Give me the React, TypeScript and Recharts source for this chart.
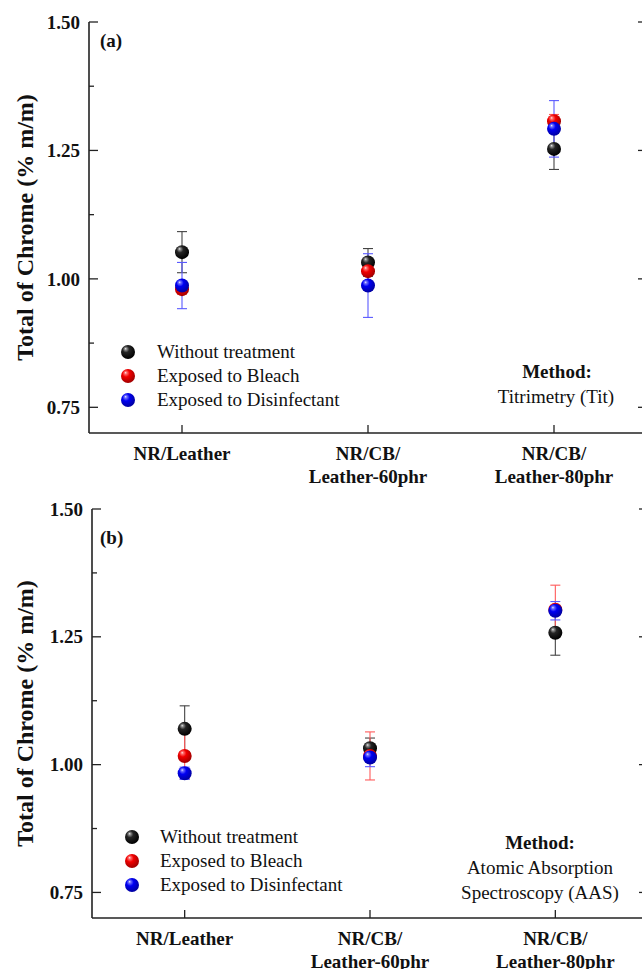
import React from 'react';
import { ComposedChart, Scatter, XAxis, YAxis, ErrorBar } from 'recharts';

// ---------- data ----------
const categories = ['NR/Leather', 'NR/CB/\nLeather-60phr', 'NR/CB/\nLeather-80phr'];
const seriesNames = ['Without treatment', 'Exposed to Bleach', 'Exposed to Disinfectant'];
const yTicks = [0.75, 0.875, 1.0, 1.125, 1.25, 1.375, 1.5];
const yDomain: [number, number] = [0.7, 1.5];

// Panel (a) Titrimetry
const titWithout = [1.052, 1.032, 1.253];
const titWithoutErr = [0.04, 0.027, 0.04];
const titBleach = [0.98, 1.015, 1.307];
const titBleachErr = [0.01, 0.02, 0.013];
const titDisinf = [0.987, 0.987, 1.292];
const titDisinfErr = [0.045, 0.062, 0.055];

// Panel (b) AAS
const aasWithout = [1.07, 1.032, 1.258];
const aasWithoutErr = [0.045, 0.02, 0.044];
const aasBleach = [1.017, 1.017, 1.303];
const aasBleachErr = [0.045, 0.047, 0.048];
const aasDisinf = [0.983, 1.014, 1.301];
const aasDisinfErr = [0.012, 0.018, 0.018];

const FONT = "'Liberation Serif', 'Times New Roman', serif";
const AXIS = '#222';

const sphereStops: Record<string, [number, string][]> = {
  black: [[0, '#e8e8e8'], [0.14, '#8a8a8a'], [0.38, '#252525'], [1, '#000000']],
  red: [[0, '#ffe8e8'], [0.14, '#ff7070'], [0.42, '#f20000'], [1, '#a00000']],
  blue: [[0, '#e8e8ff'], [0.14, '#7070ff'], [0.42, '#0000f2'], [1, '#0000a0']],
};
const colorKeys = ['black', 'red', 'blue'];
const errColors = ['#444444', '#ff5a5a', '#5a5aff'];

const Sphere = ({ cx, cy, color, id, r = 7 }: any) => (
  <g>
    <defs>
      <radialGradient id={id} cx="42%" cy="38%" r="62%" fx="32%" fy="26%">
        {sphereStops[color].map(([o, c], i) => (
          <stop key={i} offset={o} stopColor={c} />
        ))}
      </radialGradient>
    </defs>
    <circle cx={cx} cy={cy} r={r} fill={`url(#${id})`} />
  </g>
);

const isMajor = (v: number) => Math.abs(v * 4 - Math.round(v * 4)) < 1e-6;

const LeftTick = (props: any) => {
  const { x, y, payload } = props;
  const v = payload.value as number;
  const major = isMajor(v);
  return (
    <g>
      <line x1={x} x2={x + (major ? 9 : 5)} y1={y} y2={y} stroke={AXIS} strokeWidth={1.3} />
      {major && (
        <text x={x - 9} y={y} dy="0.35em" textAnchor="end" fontFamily={FONT} fontWeight="bold" fontSize={19} fill="#111">
          {v.toFixed(2)}
        </text>
      )}
    </g>
  );
};

const RightTick = (props: any) => {
  const { x, y, payload } = props;
  const major = isMajor(payload.value);
  return <line x1={x} x2={x - (major ? 9 : 5)} y1={y} y2={y} stroke={AXIS} strokeWidth={1.3} />;
};

const TopTick = (props: any) => {
  const { x, y } = props;
  return <line x1={x} x2={x} y1={y} y2={y + 8} stroke={AXIS} strokeWidth={1.3} />;
};

const BottomTick = (props: any) => {
  const { x, y, payload } = props;
  const lines = String(payload.value).split('\n');
  return (
    <g>
      <line x1={x} x2={x} y1={y} y2={y - 8} stroke={AXIS} strokeWidth={1.3} />
      {lines.map((l, i) => (
        <text key={i} x={x} y={y + 27 + i * 23} textAnchor="middle" fontFamily={FONT} fontWeight="bold" fontSize={19} fill="#111">
          {l}
        </text>
      ))}
    </g>
  );
};

const YLabel = ({ cx, cy }: any) => (
  <text x={cx} y={cy} transform={`rotate(-90, ${cx}, ${cy})`} textAnchor="middle" dominantBaseline="central"
    fontFamily={FONT} fontWeight="bold" fontSize={24} fill="#111">
    Total of Chrome (% m/m)
  </text>
);

type PanelProps = {
  id: string;
  top: number;
  width: number;
  height: number;
  marginTop: number;
  plotHeight: number;
  yAxisWidth: number;
  labelCx: number;
  vals: number[][];
  errs: number[][];
};

const RIGHT_W = 15;

const Panel = ({ id, top, width, height, marginTop, plotHeight, yAxisWidth, labelCx, vals, errs }: PanelProps) => {
  const data = categories.map((cat, i) => ({
    cat,
    s0: vals[0][i], e0: errs[0][i],
    s1: vals[1][i], e1: errs[1][i],
    s2: vals[2][i], e2: errs[2][i],
  }));
  const xAxisHeight = height - marginTop - plotHeight;
  const plotWidth = width - yAxisWidth - RIGHT_W;
  const pad = plotWidth / (2 * categories.length);
  return (
    <div style={{ position: 'absolute', left: 0, top, width, height }}>
      <ComposedChart width={width} height={height} data={data} margin={{ top: marginTop, right: 0, bottom: 0, left: 0 }}>
        <XAxis dataKey="cat" type="category" height={xAxisHeight} interval={0} tickSize={0} tickMargin={0}
          padding={{ left: pad, right: pad }}
          axisLine={{ stroke: AXIS, strokeWidth: 1.6 }} tickLine={false} tick={<BottomTick />} />
        <XAxis xAxisId="top" dataKey="cat" type="category" orientation="top" height={0} interval={0} tickSize={0} tickMargin={0}
          padding={{ left: pad, right: pad }}
          axisLine={{ stroke: AXIS, strokeWidth: 1.6 }} tickLine={false} tick={<TopTick />} />
        <YAxis type="number" domain={yDomain} ticks={yTicks} width={yAxisWidth} interval={0} tickSize={0} tickMargin={0}
          allowDataOverflow axisLine={{ stroke: AXIS, strokeWidth: 1.6 }} tickLine={false} tick={<LeftTick />}
          label={<YLabel cx={labelCx} cy={marginTop + plotHeight / 2} />} />
        <YAxis yAxisId="r" orientation="right" type="number" domain={yDomain} ticks={yTicks} width={RIGHT_W} interval={0}
          tickSize={0} tickMargin={0} allowDataOverflow axisLine={{ stroke: AXIS, strokeWidth: 1.6 }} tickLine={false}
          tick={<RightTick />} />
        {[0, 1, 2].map((k) => (
          <Scatter key={k} name={seriesNames[k]} dataKey={`s${k}`} isAnimationActive={false}
            shape={(p: any) => <Sphere cx={p.cx} cy={p.cy} color={colorKeys[k]} id={`${id}-sph-${k}`} />}>
            <ErrorBar dataKey={`e${k}`} direction="y" width={5} stroke={errColors[k]} strokeWidth={1.1} isAnimationActive={false} />
          </Scatter>
        ))}
      </ComposedChart>
    </div>
  );
};

const Legend = ({ mx, tx, ys, id }: { mx: number; tx: number; ys: number[]; id: string }) => (
  <>
    {seriesNames.map((n, k) => (
      <React.Fragment key={k}>
        <svg style={{ position: 'absolute', left: mx - 8, top: ys[k] - 8 }} width={16} height={16}>
          <Sphere cx={8} cy={8} color={colorKeys[k]} id={`${id}-lg-${k}`} />
        </svg>
        <div style={{ position: 'absolute', left: tx, top: ys[k] - 10, lineHeight: '20px', fontFamily: FONT, fontSize: 19, color: '#111', whiteSpace: 'nowrap' }}>
          {n}
        </div>
      </React.Fragment>
    ))}
  </>
);

const TextAt = ({ x, y, children, bold = false, center = false }: any) => (
  <div style={{
    position: 'absolute', left: center ? x - 150 : x, width: center ? 300 : undefined, top: y - 10,
    lineHeight: '20px', fontFamily: FONT, fontSize: 19, fontWeight: bold ? 'bold' : 'normal', color: '#111',
    textAlign: center ? 'center' : 'left', whiteSpace: 'nowrap',
  }}>
    {children}
  </div>
);

export default function App() {
  return (
    <div style={{ position: 'absolute', left: 0, top: 0, width: 642, height: 969, overflow: 'hidden', background: '#fff' }}>
      <Panel id="a" top={0} width={662} height={490} marginTop={22} plotHeight={411} yAxisWidth={89} labelCx={25}
        vals={[titWithout, titBleach, titDisinf]} errs={[titWithoutErr, titBleachErr, titDisinfErr]} />
      <Panel id="b" top={480} width={663} height={489} marginTop={29} plotHeight={409} yAxisWidth={92} labelCx={25}
        vals={[aasWithout, aasBleach, aasDisinf]} errs={[aasWithoutErr, aasBleachErr, aasDisinfErr]} />

      <TextAt x={100} y={41} bold>(a)</TextAt>
      <Legend id="a" mx={128} tx={157} ys={[352, 376, 400]} />
      <TextAt x={557} y={372} bold center>Method:</TextAt>
      <TextAt x={556} y={397} center>Titrimetry (Tit)</TextAt>

      <TextAt x={100} y={538} bold>(b)</TextAt>
      <Legend id="b" mx={132} tx={160} ys={[837, 861, 885]} />
      <TextAt x={540} y={843} bold center>Method:</TextAt>
      <TextAt x={540} y={868} center>Atomic Absorption</TextAt>
      <TextAt x={540} y={893} center>Spectroscopy (AAS)</TextAt>
    </div>
  );
}
